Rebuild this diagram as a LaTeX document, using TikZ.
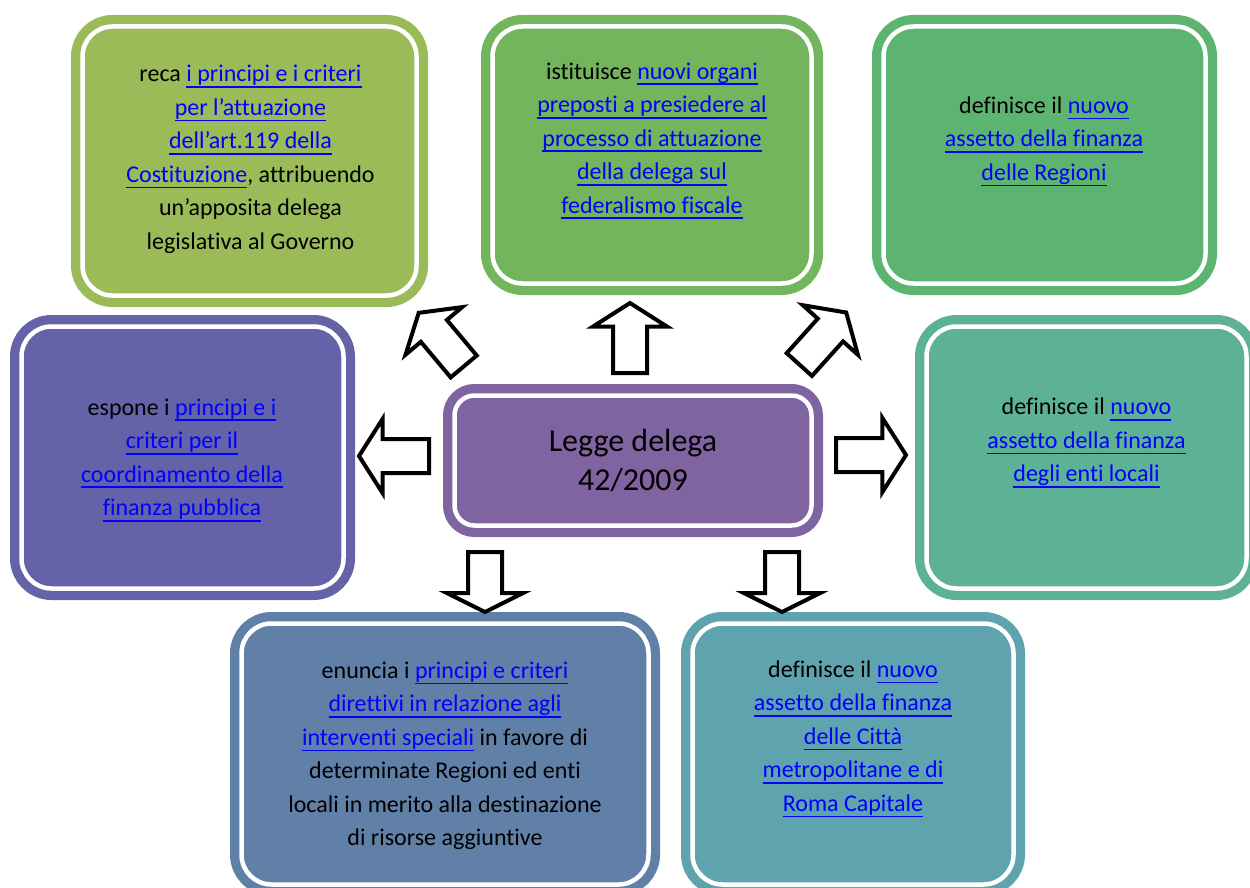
\documentclass[tikz,border=0pt]{standalone}
\usepackage{fontspec}
\setmainfont{Carlito}[RawFeature=-liga,RawFeature=-clig,RawFeature=-calt]
\usepackage{tikz}
\usetikzlibrary{shapes.arrows,calc}
\definecolor{oliveBox}{RGB}{155,187,89}
\definecolor{greenBox}{RGB}{114,181,92}
\definecolor{leafBox}{RGB}{93,180,113}
\definecolor{tealBox}{RGB}{93,177,149}
\definecolor{cyanBox}{RGB}{95,163,174}
\definecolor{steelBox}{RGB}{96,128,168}
\definecolor{indigoBox}{RGB}{100,99,167}
\definecolor{purpleBox}{RGB}{128,100,162}
\definecolor{linkBlue}{RGB}{0,0,255}
\newlength{\lnkwd}
\newcommand{\lnk}[1]{\settowidth{\lnkwd}{#1}\textcolor{linkBlue}{\rlap{\rule[-6pt]{\lnkwd}{1.8pt}}#1}}
\tikzset{
    topicBox/.style={
        ,   rectangle
        ,   rounded corners=30pt
        ,   fill=#1
        ,   draw=white
        ,   line width=4.5pt
        ,   preaction={draw=#1, line width=23pt}
        ,   inner sep=0pt
    },
    topicText/.style={
        ,   align=center
        ,   inner sep=0pt
        ,   font={\fontsize{24}{33.5}\selectfont}
    },
    blockArrow/.style={ % angle of the arrow
        ,   single arrow
        ,   draw=black
        ,   fill=white
        ,   line width=4pt
        ,   inner xsep=0pt
        ,   inner ysep=15pt
        ,   minimum height=70pt
        ,   single arrow head extend=20pt
        ,   single arrow tip angle=115
        ,   rotate=#1
        ,   anchor=tail
    },
    shortArrow/.style={ % flatter head, pointing down
        ,   blockArrow=-90
        ,   minimum height=60pt
        ,   single arrow head extend=21pt
        ,   single arrow tip angle=127
    },
}
\begin{document}
\begin{tikzpicture}[x=1pt, y=-1pt]
\useasboundingbox (0,0) rectangle (1250,888);

% top row
\node[topicBox=oliveBox, minimum width=334pt, minimum height=269pt] (b1) at (249.5,161) {};
\node[topicBox=greenBox, minimum width=319pt, minimum height=257pt] (b2) at (652,155) {};
\node[topicBox=leafBox, minimum width=322pt, minimum height=257pt] (b3) at (1044.5,155) {};
% middle row
\node[topicBox=indigoBox, minimum width=322pt, minimum height=262pt] (b4) at (182.5,457.5) {};
\node[topicBox=tealBox, minimum width=320pt, minimum height=262pt] (b5) at (1086.5,457.5) {};
\node[topicBox=purpleBox, rounded corners=20pt, minimum width=357pt, minimum height=130pt] (legge) at (633,460.5) {};
% bottom row
\node[topicBox=steelBox, minimum width=407pt, minimum height=261pt] (b6) at (445,754) {};
\node[topicBox=cyanBox, minimum width=321pt, minimum height=261pt] (b7) at (853,754) {};

\node[font={\fontsize{32}{38.5}\selectfont}, align=center, inner sep=0pt] (tl) at (legge.center) {Legge delega\\42/2009};

\node[topicText] (t1) at (250.5,159.5) {reca \lnk{i principi e i criteri}\\\lnk{per l’attuazione}\\\lnk{dell’art.119 della}\\\lnk{Costituzione}, attribuendo\\un’apposita delega\\legislativa al Governo};
\node[topicText] (t2) at (652,141) {istituisce \lnk{nuovi organi}\\\lnk{preposti a presiedere al}\\\lnk{processo di attuazione}\\\lnk{della delega sul}\\\lnk{federalismo fiscale}};
\node[topicText] (t3) at (1044,141.5) {definisce il \lnk{nuovo}\\\lnk{assetto della finanza}\\\lnk{delle Regioni}};
\node[topicText] (t4) at (182,460) {espone i \lnk{principi e i}\\\lnk{criteri per il}\\\lnk{coordinamento della}\\\lnk{finanza pubblica}};
\node[topicText] (t5) at (1086.5,443) {definisce il \lnk{nuovo}\\\lnk{assetto della finanza}\\\lnk{degli enti locali}};
\node[topicText] (t6) at (445,756) {enuncia i \lnk{principi e criteri}\\\lnk{direttivi in relazione agli}\\\lnk{interventi speciali} in favore di\\determinate Regioni ed enti\\locali in merito alla destinazione\\di risorse aggiuntive};
\node[topicText] (t7) at (853,739) {definisce il \lnk{nuovo}\\\lnk{assetto della finanza}\\\lnk{delle Città}\\\lnk{metropolitane e di}\\\lnk{Roma Capitale}};

% block arrows round the centre, placed by their tails
\foreach \ang/\px/\py/\nm in {90/630/375/aUp, 130/465/368/aUL, 48/798/366/aUR,
    180/431/456/aL, 0/834/455/aR}{
  \node[blockArrow=\ang] (\nm) at (\px,\py) {};
}
\node[shortArrow] (aDL) at (485,550) {};
\node[shortArrow] (aDR) at (782,550) {};
\end{tikzpicture}
\end{document}
